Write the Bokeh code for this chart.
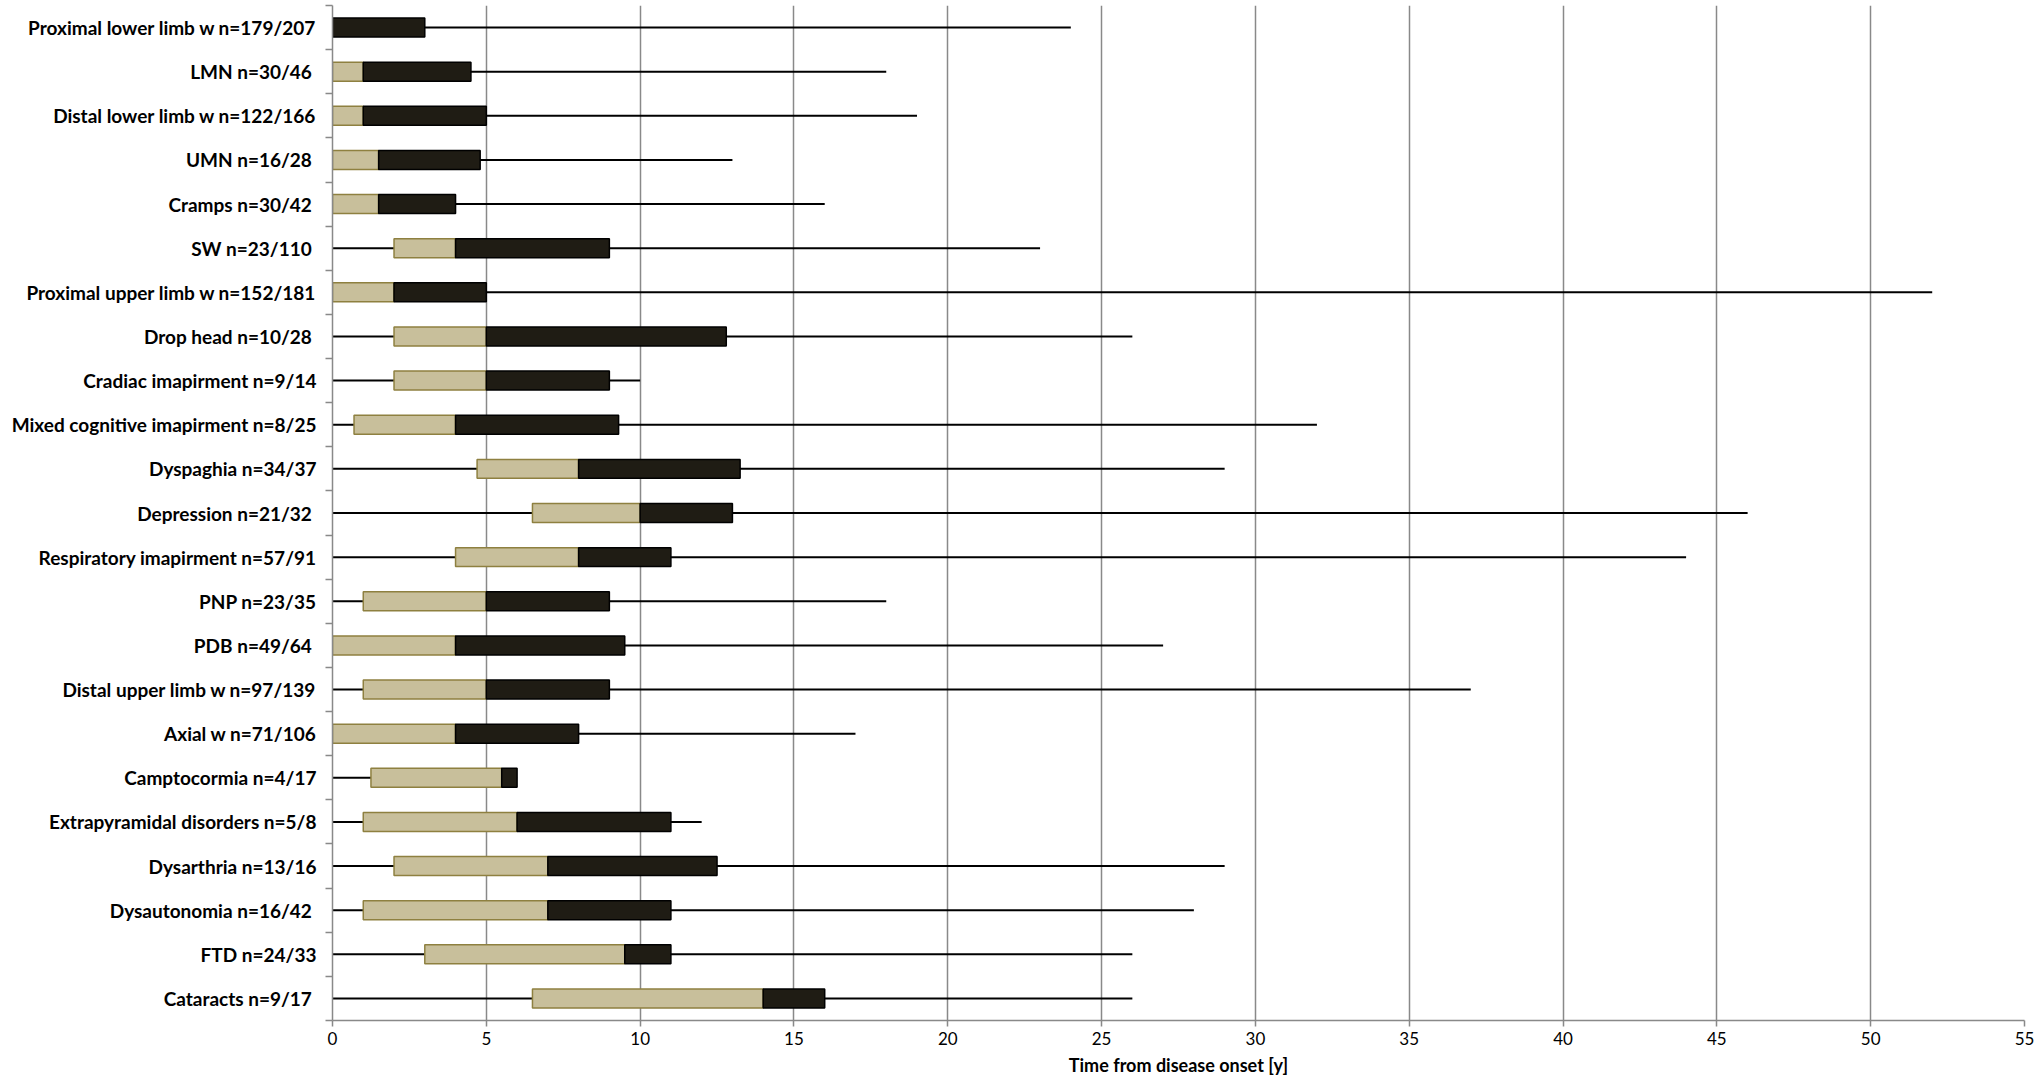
from bokeh.plotting import figure
from bokeh.models import Range1d, FixedTicker, ColumnDataSource
from bokeh.embed import file_html
from bokeh.resources import INLINE

categories = [
    "Proximal lower limb w n=179/207",
    "LMN  n=30/46",
    "Distal lower limb w n=122/166",
    "UMN  n=16/28",
    "Cramps  n=30/42",
    "SW  n=23/110",
    "Proximal upper limb w n=152/181",
    "Drop head  n=10/28",
    "Cradiac imapirment n=9/14",
    "Mixed cognitive imapirment n=8/25",
    "Dyspaghia n=34/37",
    "Depression  n=21/32",
    "Respiratory imapirment n=57/91",
    "PNP n=23/35",
    "PDB  n=49/64",
    "Distal upper limb w n=97/139",
    "Axial w n=71/106",
    "Camptocormia n=4/17",
    "Extrapyramidal disorders n=5/8",
    "Dysarthria n=13/16",
    "Dysautonomia  n=16/42",
    "FTD n=24/33",
    "Cataracts  n=9/17",
]
minimum = [0] * 23
q1 =      [0, 0, 0, 0, 0, 2, 0, 2, 2, 0.7, 4.7, 6.5, 4, 1, 0, 1, 0, 1.25, 1, 2, 1, 3, 6.5]
median =  [0, 1, 1, 1.5, 1.5, 4, 2, 5, 5, 4, 8, 10, 8, 5, 4, 5, 4, 5.5, 6, 7, 7, 9.5, 14]
q3 =      [3, 4.5, 5, 4.8, 4, 9, 5, 12.8, 9, 9.3, 13.25, 13, 11, 9, 9.5, 9, 8, 6, 11, 12.5, 11, 11, 16]
maximum = [24, 18, 19, 13, 16, 23, 52, 26, 10, 32, 29, 46, 44, 18, 27, 37, 17, 6, 12, 29, 28, 26, 26]
x_ticks = list(range(0, 56, 5))

n = len(categories)
row_pos = [i + 0.5 for i in range(n)]          # category centres (top row first)
row_bounds = list(range(n + 1))                 # category boundaries

src = ColumnDataSource(dict(y=row_pos, lo=minimum, q1=q1, med=median,
                            q3=q3, hi=maximum))

GRAY = "#898989"

p = figure(width=2036, height=1078,
           y_range=Range1d(n, 0),
           x_range=Range1d(0, 55),
           output_backend="svg", toolbar_location=None,
           min_border_left=332, min_border_right=12,
           min_border_top=5, min_border_bottom=0)
p.outline_line_color = None
p.background_fill_color = "white"

ya = p.yaxis[0]
ya.ticker = FixedTicker(ticks=row_pos, minor_ticks=row_bounds)
ya.major_label_overrides = {float(v): c for v, c in zip(row_pos, categories)}
ya.major_tick_line_color = None
ya.major_tick_out = 7
ya.major_tick_in = 0
ya.minor_tick_out = 7
ya.minor_tick_in = 0
ya.minor_tick_line_color = GRAY
ya.minor_tick_line_width = 1.5
ya.axis_line_color = GRAY
ya.axis_line_width = 1.5
ya.major_label_standoff = 9
ya.major_label_text_font = "Lato"
ya.major_label_text_font_style = "bold"
ya.major_label_text_font_size = "19px"
ya.major_label_text_color = "black"

xa = p.xaxis[0]
xa.ticker = FixedTicker(ticks=x_ticks)
xa.major_tick_out = 6
xa.major_tick_in = 0
xa.minor_tick_line_color = None
xa.axis_line_color = GRAY
xa.axis_line_width = 1.5
xa.major_tick_line_color = GRAY
xa.major_tick_line_width = 1.5
xa.major_label_text_font = "Lato"
xa.major_label_text_font_size = "17px"
xa.major_label_text_color = "black"
xa.major_label_standoff = 5
xa.axis_label = "Time from disease onset [y]"
xa.axis_label_text_font = "Lato"
xa.axis_label_text_font_style = "bold"
xa.axis_label_text_font_size = "18px"
xa.axis_label_text_color = "black"
xa.axis_label_standoff = 6

p.xgrid.ticker = FixedTicker(ticks=x_ticks)
p.xgrid.grid_line_color = GRAY
p.xgrid.grid_line_width = 1.5
p.ygrid.grid_line_color = None

p.segment(x0="lo", y0="y", x1="hi", y1="y", source=src,
          line_color="black", line_width=2)
p.hbar(y="y", left="q1", right="med", height=0.43, source=src,
       fill_color="#C8BF9B", line_color="#8E8040", line_width=1.5)
p.hbar(y="y", left="med", right="q3", height=0.43, source=src,
       fill_color="#1F1C14", line_color="black", line_width=1.5)

open("out.html", "w").write(file_html(p, INLINE))
